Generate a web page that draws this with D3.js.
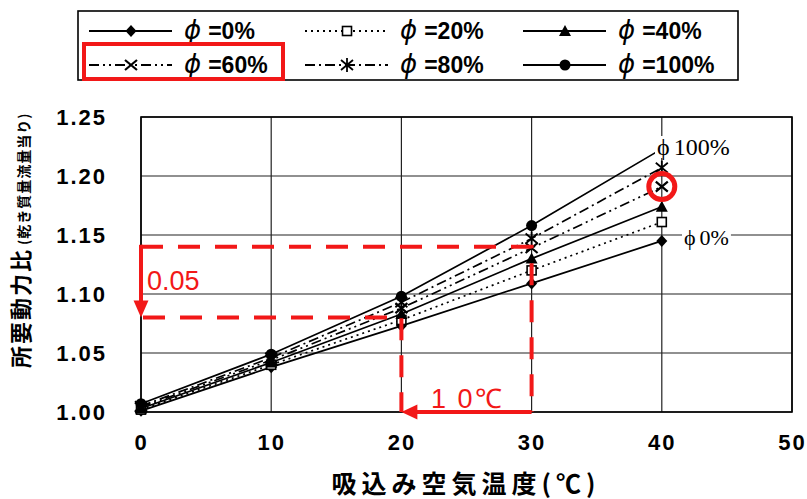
<!DOCTYPE html>
<html><head><meta charset="utf-8">
<script src="https://cdn.jsdelivr.net/npm/d3@7"></script>
<style>body{margin:0;background:#fff}svg{display:block}</style>
</head><body>
<svg id="c" width="807" height="499"></svg>
<script>
// ---- data ----
const temps = [0, 10, 20, 30, 40];
const seriesLabels = ["=0%", "=20%", "=40%", "=60%", "=80%", "=100%"];
const phi0   = [1.001, 1.038, 1.073, 1.109, 1.145];
const phi20  = [1.002, 1.040, 1.078, 1.120, 1.161];
const phi40  = [1.003, 1.042, 1.083, 1.130, 1.174];
const phi60  = [1.004, 1.044, 1.088, 1.139, 1.191];
const phi80  = [1.005, 1.046, 1.093, 1.147, 1.207];
const phi100 = [1.007, 1.049, 1.098, 1.158, 1.223];
const xTicks = [0, 10, 20, 30, 40, 50];
const yTicks = [1.00, 1.05, 1.10, 1.15, 1.20, 1.25];
const xTitle = "吸込み空気温度(℃)";
const yTitleMain = "所要動力比";
const yTitleSub = "(乾き質量流量当り)";
// annotation values
const annHigh = 1.14, annLow = 1.08, annT1 = 20, annT2 = 30;

const seriesVals = [phi0, phi20, phi40, phi60, phi80, phi100];
const styles = [
  {dash: null, marker: "diamond"},
  {dash: "2,4", marker: "square"},
  {dash: null, marker: "triangle"},
  {dash: "10,4,2,4,2,4", marker: "x"},
  {dash: "10,4,2,4", marker: "asterisk"},
  {dash: null, marker: "circle"}
];

const svg = d3.select("#c");
const L = 141, R = 792, T = 117, B = 412;
const x = d3.scaleLinear().domain([0, 50]).range([L, R]);
const y = d3.scaleLinear().domain([1.00, 1.25]).range([B, T]);
const RED = "#f21818";

// grid
const g = svg.append("g");
g.selectAll(".hg").data(yTicks).join("line")
  .attr("x1", L).attr("x2", R).attr("y1", d => y(d)).attr("y2", d => y(d))
  .attr("stroke", "#222").attr("stroke-width", 1.2);
g.selectAll(".vg").data(xTicks).join("line")
  .attr("y1", T).attr("y2", B).attr("x1", d => x(d)).attr("x2", d => x(d))
  .attr("stroke", "#222").attr("stroke-width", 1.2);
g.append("rect").attr("x", L).attr("y", T).attr("width", R - L).attr("height", B - T)
  .attr("fill", "none").attr("stroke", "#000").attr("stroke-width", 1.6);

// axes labels via d3 axes (lines hidden)
const yAxis = svg.append("g").attr("transform", `translate(${L},0)`)
  .call(d3.axisLeft(y).tickValues(yTicks).tickFormat(d3.format(".2f")).tickSize(0).tickPadding(34));
const xAxis = svg.append("g").attr("transform", `translate(0,${B})`)
  .call(d3.axisBottom(x).tickValues(xTicks).tickFormat(d3.format("d")).tickSize(0).tickPadding(22));
[yAxis, xAxis].forEach(a => {
  a.select(".domain").remove();
  a.selectAll("text").attr("fill", "#000")
    .style("font-family", "'Liberation Sans', Arial, sans-serif")
    .style("font-weight", "bold").style("font-size", "22px").style("letter-spacing", "2px");
});

// series
const line = d3.line().x((d, i) => x(temps[i])).y(d => y(d));
function drawMarker(sel, type, cx, cy) {
  if (type === "diamond") {
    sel.append("path").attr("d", `M${cx},${cy-6}L${cx+5.5},${cy}L${cx},${cy+6}L${cx-5.5},${cy}Z`).attr("fill", "#000");
  } else if (type === "square") {
    sel.append("rect").attr("x", cx-4.5).attr("y", cy-4.5).attr("width", 9).attr("height", 9)
      .attr("fill", "#fff").attr("stroke", "#000").attr("stroke-width", 1.6);
  } else if (type === "triangle") {
    sel.append("path").attr("d", `M${cx},${cy-6}L${cx+6},${cy+5}L${cx-6},${cy+5}Z`).attr("fill", "#000");
  } else if (type === "x") {
    sel.append("path").attr("d", `M${cx-6},${cy-5}L${cx+6},${cy+5}M${cx+6},${cy-5}L${cx-6},${cy+5}`)
      .attr("stroke", "#000").attr("stroke-width", 2.2);
  } else if (type === "asterisk") {
    sel.append("path").attr("d", `M${cx-6},${cy-5}L${cx+6},${cy+5}M${cx+6},${cy-5}L${cx-6},${cy+5}M${cx},${cy-7}L${cx},${cy+7}`)
      .attr("stroke", "#000").attr("stroke-width", 1.8);
  } else if (type === "circle") {
    sel.append("circle").attr("cx", cx).attr("cy", cy).attr("r", 5.5).attr("fill", "#000");
  }
}
const sg = svg.append("g");
seriesVals.forEach((vals, k) => {
  sg.append("path").attr("d", line(vals)).attr("fill", "none").attr("stroke", "#000")
    .attr("stroke-width", 1.7).attr("stroke-dasharray", styles[k].dash);
});
seriesVals.forEach((vals, k) => {
  vals.forEach((v, i) => drawMarker(sg, styles[k].marker, x(temps[i]), y(v)));
});

// in-plot labels
function phiLabel(tx, ty, txt, fs) {
  const t = svg.append("text").attr("x", tx).attr("y", ty)
    .style("font-family", "'Liberation Serif', 'DejaVu Serif', serif").style("font-size", fs + "px").attr("fill", "#000");
  t.append("tspan").text("ϕ");
  t.append("tspan").attr("dx", 4).text(txt);
  const bb = t.node().getBBox();
  svg.insert("rect", () => t.node()).attr("x", bb.x - 2).attr("y", bb.y + 2).attr("width", bb.width + 4).attr("height", bb.height - 4).attr("fill", "#fff");
}
phiLabel(657, 155, "100%", 24);
phiLabel(684, 245, "0%", 22);

// red annotations
const an = svg.append("g").attr("stroke", RED).attr("fill", "none").attr("stroke-width", 4);
an.append("path").attr("d", `M${x(0)},${y(annHigh)}H${x(annT2)}V${y(1.0)}`).attr("stroke-dasharray", "22,15");
an.append("path").attr("d", `M${x(0)+2},${y(annLow)}H${x(annT1)}V${y(1.0)}`).attr("stroke-dasharray", "22,15");
an.append("path").attr("d", `M${x(0)},${y(annHigh)-2}V${y(annLow)-14}`);
an.append("path").attr("d", `M${x(annT2)},${y(1.0)}H${x(annT1)+14}`);
svg.append("path").attr("d", `M${x(0)-7.5},${y(annLow)-17}L${x(0)+7.5},${y(annLow)-17}L${x(0)},${y(annLow)}Z`).attr("fill", RED);
svg.append("path").attr("d", `M${x(annT1)+16},${y(1.0)-7.5}L${x(annT1)+16},${y(1.0)+7.5}L${x(annT1)},${y(1.0)}Z`).attr("fill", RED);
svg.append("text").attr("x", 147).attr("y", 290).attr("fill", RED)
  .style("font-family", "'Liberation Sans', Arial, sans-serif").style("font-size", "27px").text("0.05");
svg.append("text").attr("x", 431).attr("y", 408).attr("fill", RED)
  .style("font-family", "'Liberation Sans', Arial, sans-serif").style("font-size", "27px").style("letter-spacing", "2px").text("1 0℃");
// red circle around phi60 @ 40
svg.append("circle").attr("cx", x(40)).attr("cy", y(phi60[4])).attr("r", 13)
  .attr("fill", "none").attr("stroke", RED).attr("stroke-width", 5);

// axis titles
svg.append("text").attr("x", 466).attr("y", 493).attr("text-anchor", "middle")
  .style("font-family", "'Noto Sans CJK JP', sans-serif").style("font-weight", "bold").style("font-size", "25px")
  .style("letter-spacing", "5px")
  .attr("fill", "#000").text(xTitle);
const yt = svg.append("text").attr("transform", "translate(29,368) rotate(-90)")
  .style("font-family", "'Noto Sans CJK JP', sans-serif").style("font-weight", "bold").attr("fill", "#000");
yt.append("tspan").style("font-size", "22px").style("letter-spacing", "2px").text(yTitleMain);
yt.append("tspan").style("font-size", "14px").style("letter-spacing", "1px").attr("dx", 3).text(yTitleSub);

// legend
const lg = svg.append("g");
lg.append("rect").attr("x", 78).attr("y", 11).attr("width", 660).attr("height", 69)
  .attr("fill", "#fff").attr("stroke", "#000").attr("stroke-width", 1.6);
const colX = [89, 305, 523], rowY = [31, 65];
seriesLabels.forEach((lab, k) => {
  const cx0 = colX[k % 3], cy0 = rowY[Math.floor(k / 3)];
  lg.append("line").attr("x1", cx0).attr("x2", cx0 + 83).attr("y1", cy0).attr("y2", cy0)
    .attr("stroke", "#000").attr("stroke-width", 2).attr("stroke-dasharray", styles[k].dash);
  drawMarker(lg, styles[k].marker, cx0 + 42, cy0);
  const t = lg.append("text").attr("x", cx0 + 95).attr("y", cy0 + 8)
    .style("font-family", "'Liberation Sans', Arial, sans-serif").style("font-size", "23px").style("font-weight", "bold").attr("fill", "#000");
  t.append("tspan").style("font-style", "italic").style("font-family", "'DejaVu Sans', sans-serif").style("font-weight", "normal").style("font-size", "26px").text("ϕ");
  t.append("tspan").attr("dx", 7).text(lab);
});
// red box around phi60 legend entry
svg.append("rect").attr("x", 84).attr("y", 44).attr("width", 199).attr("height", 35)
  .attr("fill", "none").attr("stroke", RED).attr("stroke-width", 4);
</script>
</body></html>
